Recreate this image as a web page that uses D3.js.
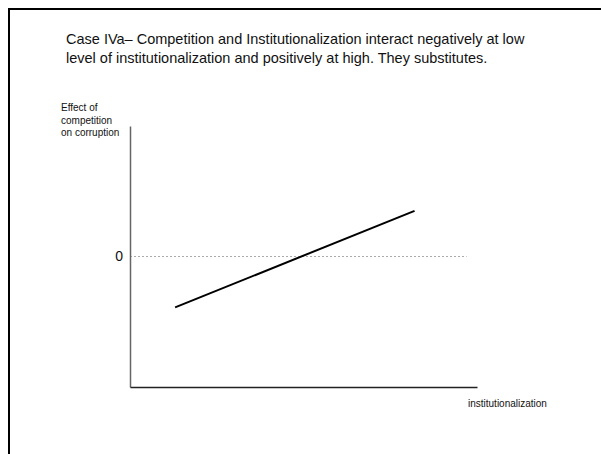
<!DOCTYPE html>
<html>
<head>
<meta charset="utf-8">
<script src="https://cdn.jsdelivr.net/npm/d3@7"></script>
<style>
  html, body { margin: 0; padding: 0; background: #fff; }
  svg { display: block; font-family: "Liberation Sans", Arial, sans-serif; }
</style>
</head>
<body>
<svg id="chart" width="601" height="454"></svg>
<script>
// ---- data ----
const titleLines = [
  "Case IVa\u2013 Competition and Institutionalization interact negatively at low",
  "level of institutionalization and positively at high. They substitutes."
];
const yLabelLines = ["Effect of", "competition", "on corruption"];
const xLabel = "institutionalization";
const institutionalization = [1.3, 8.2];
const effect = [-0.39, 0.35];
const yTickValues = [0];
const zeroLineExtent = [0, 9.7];

// ---- drawing ----
const svg = d3.select("#chart");

// slide frame (left + top)
svg.append("path")
  .attr("d", "M9,454V9H601")
  .attr("fill", "none")
  .attr("stroke", "#000")
  .attr("stroke-width", 2);

const x = d3.scaleLinear().domain([0, 10]).range([130, 477]);
const y = d3.scaleLinear().domain([-1, 1]).range([387, 126]);

// title
const title = svg.append("text")
  .attr("font-size", 14.5)
  .attr("fill", "#111");
titleLines.forEach((t, i) => {
  title.append("tspan").attr("x", 66).attr("y", 44 + i * 19).text(t);
});

// zero reference line
svg.append("line")
  .attr("x1", x(zeroLineExtent[0]))
  .attr("x2", x(zeroLineExtent[1]))
  .attr("y1", y(0))
  .attr("y2", y(0))
  .attr("stroke", "#aaa")
  .attr("stroke-width", 1)
  .attr("stroke-dasharray", "2,2");

// y axis
const yAxis = svg.append("g")
  .attr("transform", `translate(${x(0)},0)`)
  .call(d3.axisLeft(y).tickValues(yTickValues).tickSize(0).tickSizeOuter(0).tickPadding(7).tickFormat(d3.format("d")));
yAxis.select(".domain").attr("stroke", "#666").attr("stroke-width", 1.5);
yAxis.selectAll("text")
  .attr("font-size", 14)
  .attr("font-family", "Liberation Sans, Arial, sans-serif")
  .attr("fill", "#111");

// x axis
const xAxis = svg.append("g")
  .attr("transform", `translate(0,${y(-1)})`)
  .call(d3.axisBottom(x).tickValues([]).tickSize(0).tickSizeOuter(0));
xAxis.select(".domain").attr("stroke", "#222").attr("stroke-width", 1.5);

// effect line
const line = d3.line()
  .x((d, i) => x(institutionalization[i]))
  .y(d => y(d));
svg.append("path")
  .datum(effect)
  .attr("d", line)
  .attr("fill", "none")
  .attr("stroke", "#000")
  .attr("stroke-width", 2);

// y label
const yl = svg.append("text")
  .attr("font-size", 10)
  .attr("fill", "#111");
yLabelLines.forEach((t, i) => {
  yl.append("tspan").attr("x", 61).attr("y", 111 + i * 12.5).text(t);
});

// x label
svg.append("text")
  .attr("x", 468)
  .attr("y", 407)
  .attr("font-size", 10)
  .attr("fill", "#111")
  .text(xLabel);
</script>
</body>
</html>
